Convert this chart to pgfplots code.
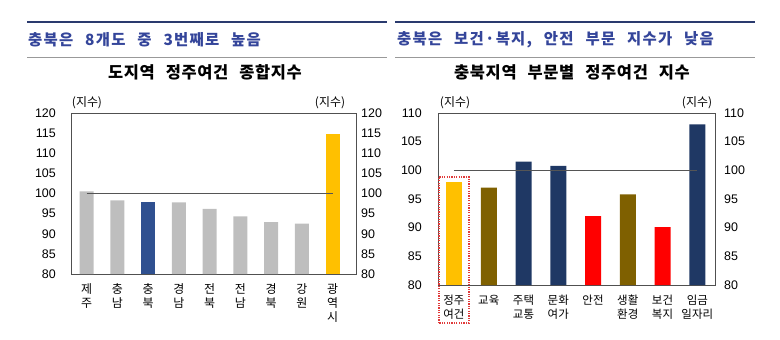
\documentclass[border=0pt]{standalone}
\usepackage{pgfplots}
\pgfplotsset{compat=1.18}
\usepackage{fontspec}
\setmainfont{Liberation Sans}
\newfontfamily\kr{Noto Sans CJK KR}
\newfontfamily\krs[WordSpace=2.5,LetterSpace=4]{Noto Sans CJK KR}
\newfontfamily\krt[WordSpace=2.5,LetterSpace=8]{Noto Sans CJK KR}
\definecolor{subblue}{HTML}{34459A}
\definecolor{ruleblue}{HTML}{2A3A6E}
\definecolor{barGray}{HTML}{BEBEBE}
\definecolor{barBlue}{HTML}{2F5090}
\definecolor{barYellow}{HTML}{FFC000}
\definecolor{barNavy}{HTML}{1F3864}
\definecolor{barOlive}{HTML}{7F6000}
\definecolor{barRed}{HTML}{FF0000}
\definecolor{axisgray}{HTML}{505050}
\definecolor{refgray}{HTML}{555555}
\definecolor{boxred}{HTML}{E03A3A}
\begin{document}
\begin{tikzpicture}[x=1bp,y=1bp]
\path[use as bounding box] (0,0) rectangle (780,339);
% headers
\draw[ruleblue, line width=2bp] (27,317) -- (387,317);
\draw[gray!80, line width=0.8bp] (27,282) -- (387,282);
\node[anchor=west, text=subblue, inner sep=0pt, font=\krt\bfseries\fontsize{15.5}{18}\selectfont] at (28,299) {충북은 8개도 중 3번째로 높음};
\node[inner sep=0pt, font=\krs\bfseries\fontsize{16.5}{19}\selectfont] at (205,267) {도지역 정주여건 종합지수};
\draw[ruleblue, line width=2bp] (395,317) -- (755,317);
\draw[gray!80, line width=0.8bp] (395,282) -- (755,282);
\node[anchor=west, text=subblue, inner sep=0pt, font=\krt\bfseries\fontsize{15.5}{18}\selectfont] at (397,299) {충북은 보건·복지, 안전 부문 지수가 낮음};
\node[inner sep=0pt, font=\krs\bfseries\fontsize{16.5}{19}\selectfont] at (572,267) {충북지역 부문별 정주여건 지수};
% unit labels
\node[inner sep=0pt, font=\kr\fontsize{12}{14}\selectfont] at (87,236) {(지수)};
\node[inner sep=0pt, font=\kr\fontsize{12}{14}\selectfont] at (330,236) {(지수)};
\node[inner sep=0pt, font=\kr\fontsize{12}{14}\selectfont] at (455,236) {(지수)};
\node[inner sep=0pt, font=\kr\fontsize{12}{14}\selectfont] at (697,236) {(지수)};

% left panel
\begin{axis}[at={(71bp,65bp)}, anchor=south west, scale only axis,
  width=285bp, height=161bp,
  xmin=-0.51, xmax=8.76, ymin=80, ymax=120,
  ytick={80,85,...,120}, xtick={0,...,8},
  xticklabels={{제\\주},{충\\남},{충\\북},{경\\남},{전\\북},{전\\남},{경\\북},{강\\원},{광\\역\\시}},
  major tick length=0,
  axis line style={draw=axisgray, line width=0.8bp},
  yticklabel style={anchor=east, inner sep=0pt, xshift=-15bp, font=\fontsize{12.5}{14}\selectfont},
  xticklabel style={anchor=north, inner sep=0pt, yshift=-9bp, align=center, font=\kr\fontsize{12}{14.5}\selectfont},
  /pgf/number format/assume math mode=true]
\addplot[ybar, bar width=14bp, bar shift=0pt, fill=barGray, draw=none] coordinates {(0,100.5) (1,98.3) (3,97.8) (4,96.2) (5,94.3) (6,92.9) (7,92.5)};
\addplot[ybar, bar width=14bp, bar shift=0pt, fill=barBlue, draw=none] coordinates {(2,97.8)};
\addplot[ybar, bar width=14bp, bar shift=0pt, fill=barYellow, draw=none] coordinates {(8,114.7)};
\addplot[refgray, line width=0.8bp] coordinates {(0,100) (8,100)};
\end{axis}
\begin{axis}[at={(71bp,65bp)}, anchor=south west, scale only axis,
  width=285bp, height=161bp,
  xmin=-0.51, xmax=8.76, ymin=80, ymax=120,
  ytick={80,85,...,120}, axis x line=none, axis y line*=right,
  axis line style={draw=none}, major tick length=0,
  yticklabel style={anchor=west, inner sep=0pt, xshift=5bp, font=\fontsize{12.5}{14}\selectfont},
  /pgf/number format/assume math mode=true]
\addplot[draw=none] coordinates {(0,80)};
\end{axis}

% right panel
\begin{axis}[at={(438bp,54bp)}, anchor=south west, scale only axis,
  width=277bp, height=172bp,
  xmin=-0.46, xmax=7.51, ymin=80, ymax=110,
  ytick={80,85,...,110}, xtick={0,...,7},
  xticklabels={{정주\\여건},{교육},{주택\\교통},{문화\\여가},{안전},{생활\\환경},{보건\\복지},{임금\\일자리}},
  major tick length=0,
  axis line style={draw=axisgray, line width=0.8bp},
  yticklabel style={anchor=east, inner sep=0pt, xshift=-16bp, font=\fontsize{12.5}{14}\selectfont},
  xticklabel style={anchor=north, inner sep=0pt, yshift=-10bp, align=center, font=\kr\fontsize{11.5}{13.5}\selectfont},
  /pgf/number format/assume math mode=true]
\addplot[ybar, bar width=16bp, bar shift=0pt, fill=barYellow, draw=none] coordinates {(0,97.9)};
\addplot[ybar, bar width=16bp, bar shift=0pt, fill=barOlive, draw=none] coordinates {(1,97.0) (5,95.8)};
\addplot[ybar, bar width=16bp, bar shift=0pt, fill=barNavy, draw=none] coordinates {(2,101.5) (3,100.8) (7,108.0)};
\addplot[ybar, bar width=16bp, bar shift=0pt, fill=barRed, draw=none] coordinates {(4,92.0) (6,90.1)};
\addplot[refgray, line width=0.8bp] coordinates {(0,100) (7,100)};
\end{axis}
\begin{axis}[at={(438bp,54bp)}, anchor=south west, scale only axis,
  width=277bp, height=172bp,
  xmin=-0.46, xmax=7.51, ymin=80, ymax=110,
  ytick={80,85,...,110}, axis x line=none, axis y line*=right,
  axis line style={draw=none}, major tick length=0,
  yticklabel style={anchor=west, inner sep=0pt, xshift=9bp, font=\fontsize{12.5}{14}\selectfont},
  /pgf/number format/assume math mode=true]
\addplot[draw=none] coordinates {(0,80)};
\end{axis}
\draw[boxred, dash pattern=on 1.2bp off 1.2bp, line width=1.1bp] (439,16) rectangle (469,162);
\end{tikzpicture}
\end{document}
